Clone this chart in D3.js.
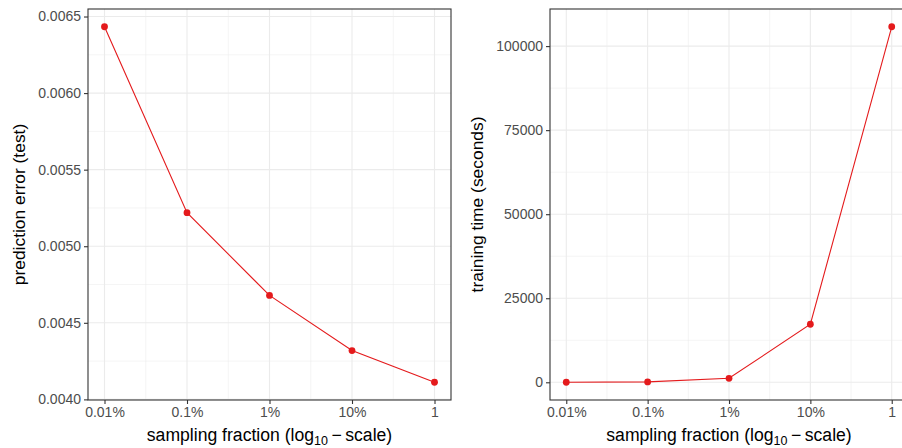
<!DOCTYPE html>
<html>
<head>
<meta charset="utf-8">
<script src="https://cdn.jsdelivr.net/npm/d3@7"></script>
<style>
  html, body { margin: 0; padding: 0; background: #fff; }
  svg { display: block; }
  text { font-family: "Liberation Sans", Arial, Helvetica, sans-serif; }
</style>
</head>
<body>
<svg id="chart" width="902" height="448"></svg>
<script>
// ---- data ----
const fractions = [0.0001, 0.001, 0.01, 0.1, 1];
const fractionLabels = ["0.01%", "0.1%", "1%", "10%", "1"];
const predictionError = [0.006433, 0.005219, 0.004679, 0.004319, 0.004112];
const trainingTime = [20, 120, 1190, 17260, 105750];
const errorTicks = [0.0040, 0.0045, 0.0050, 0.0055, 0.0060, 0.0065];
const errorTickLabels = ["0.0040", "0.0045", "0.0050", "0.0055", "0.0060", "0.0065"];
const timeTicks = [0, 25000, 50000, 75000, 100000];
const timeTickLabels = ["0", "25000", "50000", "75000", "100000"];
const xTitle = "sampling fraction";
const yTitles = ["prediction error (test)", "training time (seconds)"];

const svg = d3.select("#chart");
const RED = "#E41A1C";
const GRID = "#ebebeb";
const BORDER = "#333333";
const TICKTXT = "#4d4d4d";

function expand(lo, hi, f) { const d = (hi - lo) * f; return [lo - d, hi + d]; }

function panel(opts) {
  const { x0, x1, y0, y1, yvals, yticks, yticklabels, ytitle, ytitleX } = opts;
  const g = svg.append("g");
  const lx = fractions.map(v => Math.log10(v));
  const xd = expand(d3.min(lx), d3.max(lx), 0.05);
  const x = d3.scaleLog().domain([Math.pow(10, xd[0]), Math.pow(10, xd[1])]).range([x0, x1]);
  const yd = expand(d3.min(yvals), d3.max(yvals), 0.05);
  const y = d3.scaleLinear().domain(yd).range([y1, y0]);

  const cid = "clip" + Math.round(x0);
  svg.append("defs").append("clipPath").attr("id", cid)
    .append("rect").attr("x", x0).attr("y", y0).attr("width", x1 - x0).attr("height", y1 - y0);
  const inner = g.append("g").attr("clip-path", `url(#${cid})`);

  const xMinor = [];
  for (let i = 0; i < fractions.length - 1; i++) xMinor.push(Math.sqrt(fractions[i] * fractions[i + 1]));
  const ystep = yticks[1] - yticks[0];
  const yMinor = [];
  for (let i = -1; i < yticks.length; i++) {
    const v = yticks[0] + ystep * (i + 0.5);
    if (v > yd[0] && v < yd[1]) yMinor.push(v);
  }
  inner.selectAll(".ymin").data(yMinor).join("line")
    .attr("x1", x0).attr("x2", x1).attr("y1", d => y(d)).attr("y2", d => y(d))
    .attr("stroke", GRID).attr("stroke-width", 0.55);
  inner.selectAll(".xmin").data(xMinor).join("line")
    .attr("y1", y0).attr("y2", y1).attr("x1", d => x(d)).attr("x2", d => x(d))
    .attr("stroke", GRID).attr("stroke-width", 0.55);
  inner.selectAll(".ymaj").data(yticks).join("line")
    .attr("x1", x0).attr("x2", x1).attr("y1", d => y(d)).attr("y2", d => y(d))
    .attr("stroke", GRID).attr("stroke-width", 1.1);
  inner.selectAll(".xmaj").data(fractions).join("line")
    .attr("y1", y0).attr("y2", y1).attr("x1", d => x(d)).attr("x2", d => x(d))
    .attr("stroke", GRID).attr("stroke-width", 1.1);

  const pts = fractions.map((f, i) => [f, yvals[i]]);
  inner.append("path").datum(pts)
    .attr("d", d3.line().x(d => x(d[0])).y(d => y(d[1])))
    .attr("fill", "none").attr("stroke", RED).attr("stroke-width", 1.1);
  inner.selectAll("circle").data(pts).join("circle")
    .attr("cx", d => x(d[0])).attr("cy", d => y(d[1])).attr("r", 3.4).attr("fill", RED);

  g.append("rect").attr("x", x0).attr("y", y0).attr("width", x1 - x0).attr("height", y1 - y0)
    .attr("fill", "none").attr("stroke", BORDER).attr("stroke-width", 1.1);

  const xAxis = d3.axisBottom(x).tickValues(fractions)
    .tickFormat((d, i) => fractionLabels[i]).tickSizeOuter(0).tickSizeInner(4).tickPadding(3);
  const xa = g.append("g").attr("transform", `translate(0,${y1})`).call(xAxis);
  const yAxis = d3.axisLeft(y).tickValues(yticks)
    .tickFormat((d, i) => yticklabels[i]).tickSizeOuter(0).tickSizeInner(4).tickPadding(3);
  const ya = g.append("g").attr("transform", `translate(${x0},0)`).call(yAxis);
  [xa, ya].forEach(a => {
    a.select(".domain").remove();
    a.selectAll(".tick line").attr("stroke", BORDER).attr("stroke-width", 1.1);
    a.selectAll(".tick text").attr("fill", TICKTXT)
      .style("font-family", '"Liberation Sans", Arial, sans-serif').style("font-size", "14px");
  });

  const t = g.append("text").attr("x", (x0 + x1) / 2)
    .attr("y", 441).attr("text-anchor", "middle").attr("fill", "#000").style("font-size", "17.6px");
  t.append("tspan").text(xTitle + " (log");
  t.append("tspan").text("10").attr("dy", 4).style("font-size", "12.5px");
  t.append("tspan").text("\u2009\u2212\u2009scale)").attr("dy", -4);

  g.append("text").attr("transform", `translate(${ytitleX},${(y0 + y1) / 2}) rotate(-90)`)
    .attr("text-anchor", "middle").attr("fill", "#000").style("font-size", "17.4px").text(ytitle);
}

panel({ x0: 88, x1: 451, y0: 9, y1: 400, yvals: predictionError, yticks: errorTicks,
  yticklabels: errorTickLabels, ytitle: yTitles[0], ytitleX: 25 });
panel({ x0: 550, x1: 908, y0: 9, y1: 400, yvals: trainingTime, yticks: timeTicks,
  yticklabels: timeTickLabels, ytitle: yTitles[1], ytitleX: 483 });
</script>
</body>
</html>
